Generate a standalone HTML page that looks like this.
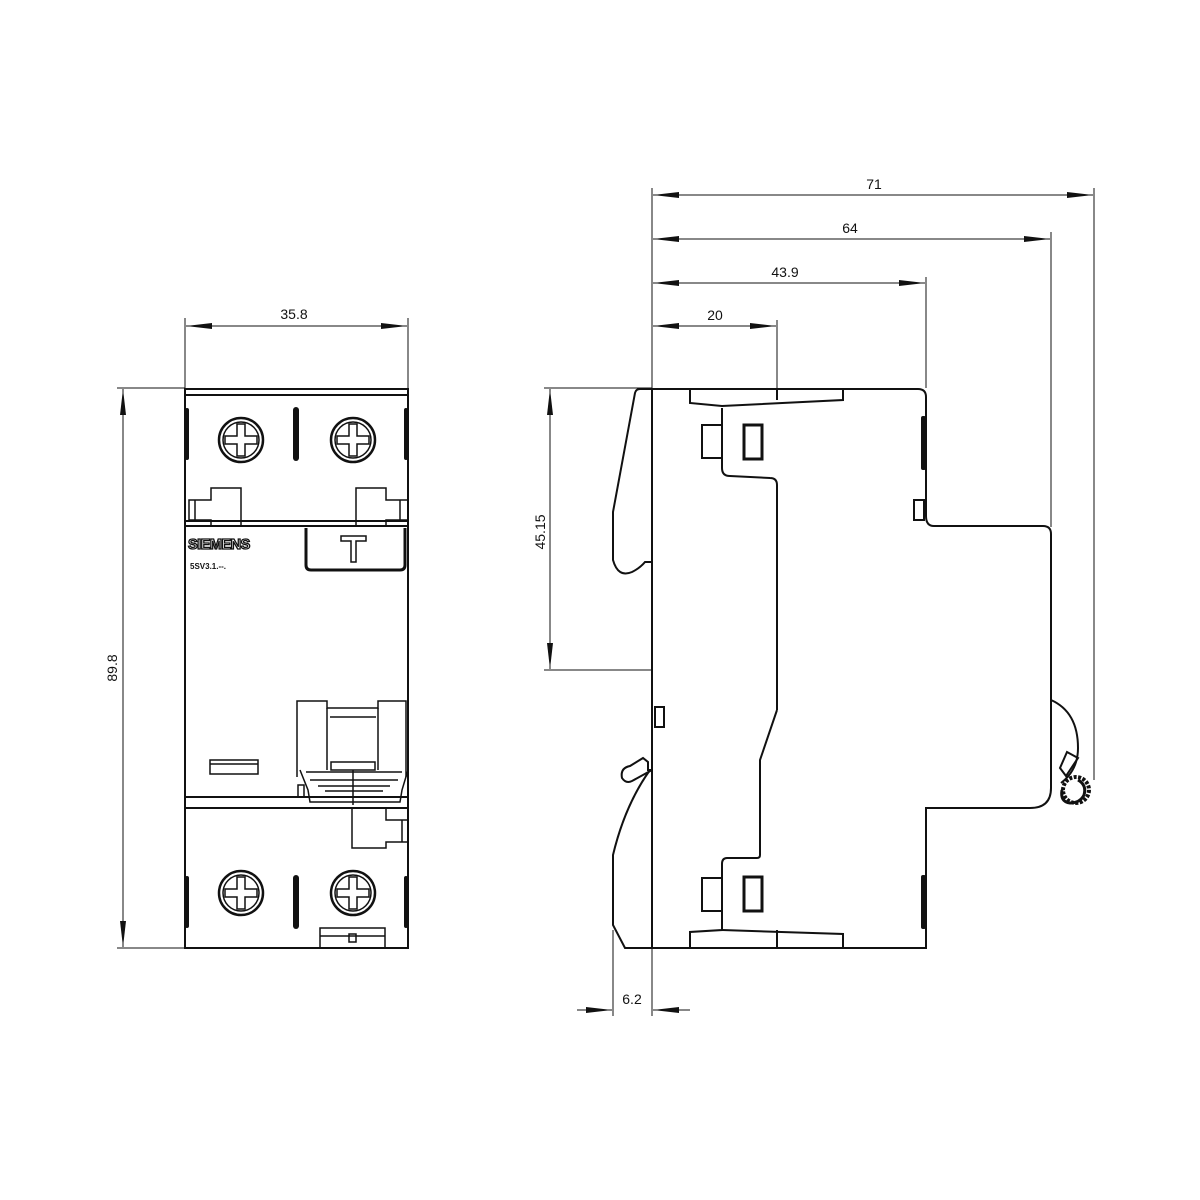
<!DOCTYPE html>
<html><head><meta charset="utf-8"><style>html,body{margin:0;padding:0;background:#fff}svg{display:block}</style></head>
<body>
<svg width="1200" height="1200" viewBox="0 0 1200 1200" xmlns="http://www.w3.org/2000/svg" font-family="Liberation Sans, sans-serif">
<defs>
<marker id="a" viewBox="0 0 26 8" refX="26" refY="4" markerWidth="26" markerHeight="8" markerUnits="userSpaceOnUse" orient="auto"><path d="M0,1 L26,4 L0,7 Z" fill="#111"/></marker>
</defs>
<g stroke="#111" fill="none">
<g stroke-width="1">
<line x1="185" y1="318" x2="185" y2="388"/><line x1="408" y1="318" x2="408" y2="388"/>
<line x1="296" y1="326" x2="186" y2="326" marker-end="url(#a)"/><line x1="296" y1="326" x2="407" y2="326" marker-end="url(#a)"/>
<line x1="117" y1="388" x2="185" y2="388"/><line x1="117" y1="948" x2="185" y2="948"/>
<line x1="123" y1="668" x2="123" y2="389" marker-end="url(#a)"/><line x1="123" y1="668" x2="123" y2="947" marker-end="url(#a)"/>

<line x1="652" y1="188" x2="652" y2="1016"/>
<line x1="1094" y1="188" x2="1094" y2="780"/>
<line x1="1051" y1="232" x2="1051" y2="527"/>
<line x1="926" y1="277" x2="926" y2="388"/>
<line x1="777" y1="320" x2="777" y2="398"/>
<line x1="870" y1="195" x2="653" y2="195" marker-end="url(#a)"/><line x1="870" y1="195" x2="1093" y2="195" marker-end="url(#a)"/>
<line x1="850" y1="239" x2="653" y2="239" marker-end="url(#a)"/><line x1="850" y1="239" x2="1050" y2="239" marker-end="url(#a)"/>
<line x1="790" y1="283" x2="653" y2="283" marker-end="url(#a)"/><line x1="790" y1="283" x2="925" y2="283" marker-end="url(#a)"/>
<line x1="715" y1="326" x2="653" y2="326" marker-end="url(#a)"/><line x1="715" y1="326" x2="776" y2="326" marker-end="url(#a)"/>
<line x1="544" y1="388" x2="652" y2="388"/><line x1="544" y1="670" x2="652" y2="670"/>
<line x1="550" y1="530" x2="550" y2="389" marker-end="url(#a)"/><line x1="550" y1="530" x2="550" y2="669" marker-end="url(#a)"/>
<line x1="613" y1="930" x2="613" y2="1016"/>
<line x1="577" y1="1010" x2="612" y2="1010" marker-end="url(#a)"/><line x1="690" y1="1010" x2="653" y2="1010" marker-end="url(#a)"/>
</g>

<g stroke-width="2">
<rect x="185" y="389" width="223" height="559"/>
<line x1="185" y1="395" x2="408" y2="395"/>
<line x1="185" y1="521" x2="408" y2="521"/>
<line x1="185" y1="526" x2="408" y2="526"/>
<line x1="185" y1="797" x2="408" y2="797"/>
<line x1="185" y1="808" x2="408" y2="808"/>
</g>
<g fill="#111" stroke="none">
<rect x="185" y="408" width="4" height="52" rx="2"/><rect x="293" y="407" width="6" height="54" rx="3"/><rect x="404" y="408" width="4" height="52" rx="2"/>
<rect x="185" y="876" width="4" height="52" rx="2"/><rect x="293" y="875" width="6" height="54" rx="3"/><rect x="404" y="876" width="4" height="52" rx="2"/>
</g>
<g stroke-width="2.5">
<circle cx="241" cy="440" r="22"/><circle cx="353" cy="440" r="22"/>
<circle cx="241" cy="893" r="22"/><circle cx="353" cy="893" r="22"/>
</g>
<g stroke-width="1.5">
<circle cx="241" cy="440" r="18"/><circle cx="353" cy="440" r="18"/>
<circle cx="241" cy="893" r="18"/><circle cx="353" cy="893" r="18"/>
<path d="M237,424 h8 v12 h12 v8 h-12 v12 h-8 v-12 h-12 v-8 h12z"/>
<path d="M349,424 h8 v12 h12 v8 h-12 v12 h-8 v-12 h-12 v-8 h12z"/>
<path d="M237,877 h8 v12 h12 v8 h-12 v12 h-8 v-12 h-12 v-8 h12z"/>
<path d="M349,877 h8 v12 h12 v8 h-12 v12 h-8 v-12 h-12 v-8 h12z"/>
<path d="M189,500 h22 v-12 h30 v38 h-30 v-6 h-22 z"/>
<path d="M408,500 h-22 v-12 h-30 v38 h30 v-6 h22 z"/>
<path d="M408,820 h-22 v-12 h-34 v40 h34 v-6 h22 z"/>
<line x1="402" y1="820" x2="402" y2="842"/>
<line x1="195" y1="500" x2="195" y2="520"/>
<line x1="400" y1="500" x2="400" y2="520"/>
<rect x="210" y="760" width="48" height="14"/>
<line x1="210" y1="764" x2="258" y2="764"/>
<path d="M297,777 V701 H327 V708 H378 V701 H406 V777"/>
<line x1="327" y1="708" x2="327" y2="770"/><line x1="378" y1="708" x2="378" y2="770"/>
<line x1="330" y1="717" x2="376" y2="717"/>
<rect x="331" y="762" width="44" height="8"/>
<path d="M300,770 L308,790 L310,802 H400 L402,790 L408,770"/>
<path d="M306,772 h96 M310,780 h88 M318,786 h72 M325,791 h58"/>
<rect x="298" y="785" width="6" height="12"/>
<line x1="353" y1="770" x2="353" y2="805"/>
<path d="M320,948 V928 H385 V948"/><path d="M320,936 H385"/><rect x="349" y="934" width="7" height="8"/>
</g>
<g stroke-width="3">
<path d="M306,528 V565 Q306,570 311,570 H400 Q405,570 405,565 V528"/>
</g>
<g stroke-width="1.5">
<path d="M341,536 H366 V541 H356 V562 H351 V541 H341 Z"/>
</g>
<text x="188" y="549" font-size="14.5" font-weight="bold" fill="#fff" stroke="#111" stroke-width="1.3" letter-spacing="-0.5">SIEMENS</text>
<text x="190" y="569" font-size="8" font-weight="bold" fill="#111" stroke="none">5SV3.1.--.</text>

<g stroke-width="2">
<line x1="652" y1="388" x2="652" y2="948"/>
<path d="M652,389 H640 Q636,389 635,393 L613,512 V560 Q618,578 632,572 Q640,568 645,562 H652"/>
<path d="M640,389 H918 Q926,389 926,397 V516 Q926,526 934,526 H1043 Q1051,526 1051,534 V788 Q1051,808 1030,808 H926 V948 H625 L613,925 V855 Q625,805 650,770"/>
<path d="M652,770 H648 V762 L643,758 L630,766 Q620,768 622,778 Q626,784 632,781 Z" />
<path d="M690,389 V403 L722,406 L843,400 V389"/>
<path d="M777,390 V400"/>
<path d="M777,710 V485 Q777,478 770,478 L730,476 Q722,476 722,468 V408"/>
<path d="M777,710 L760,760 V855 Q760,858 757,858 H727 Q722,858 722,864 V930 L690,932 V948"/>
<path d="M722,930 L843,934 V948"/>
<path d="M777,930 V948"/>
<rect x="702" y="425" width="20" height="33"/>
<rect x="702" y="878" width="20" height="33"/>
<rect x="655" y="707" width="9" height="20"/>
<rect x="914" y="500" width="10" height="20"/>
<path d="M1051,700 Q1078,712 1078,748 Q1078,770 1061,783"/>
</g>
<g stroke-width="3">
<rect x="744" y="425" width="18" height="34"/>
<rect x="744" y="877" width="18" height="34"/>
</g>
<g fill="#111" stroke="none">
<rect x="921" y="416" width="5" height="54" rx="2"/>
<rect x="921" y="875" width="5" height="54" rx="2"/>
</g>
<g stroke-width="2">
<path d="M1067,752 L1060,768 L1066,776 L1078,758 Z"/>
<circle cx="1076" cy="790" r="13" stroke-width="4" stroke-dasharray="3 1.5"/>
<path d="M1062,790 Q1060,802 1070,803 Q1080,803 1084,795 Q1087,785 1078,780" stroke-width="3"/>
</g>
</g>
<g font-size="14" fill="#111" text-anchor="middle">
<text x="294" y="319">35.8</text>
<text x="874" y="189">71</text>
<text x="850" y="233">64</text>
<text x="785" y="277">43.9</text>
<text x="715" y="320">20</text>
<text x="632" y="1004">6.2</text>
<text transform="translate(117,668) rotate(-90)">89.8</text>
<text transform="translate(545,532) rotate(-90)">45.15</text>
</g>
</svg>
</body></html>
